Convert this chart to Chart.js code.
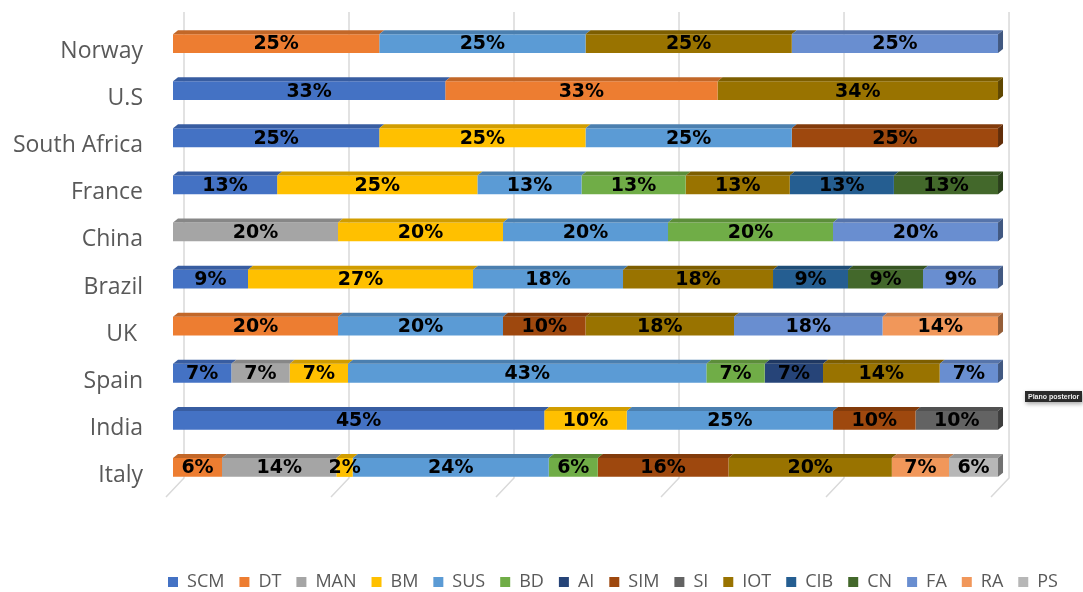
<!DOCTYPE html>
<html>
<head>
<meta charset="utf-8">
<script src="https://cdn.jsdelivr.net/npm/chart.js@4.4.1/dist/chart.umd.min.js"></script>
<style>
  html, body { margin: 0; padding: 0; background: #fff; }
  #wrap { position: relative; width: 1083px; height: 592px; }
  #tip {
    position: absolute; left: 1025px; top: 391px; white-space: nowrap;
    background: #2b2b2b; color: #eee; font: bold 7px "Liberation Sans", sans-serif;
    padding: 2px 3px; box-shadow: 1px 2px 4px rgba(0,0,0,0.35);
  }
</style>
</head>
<body>
<div id="wrap">
  <canvas id="chart" width="1083" height="592"></canvas>
  <div id="tip">Plano posterior</div>
</div>
<script>
// countries, top row first
var countries = ["Norway", "U.S", "South Africa", "France", "China", "Brazil", "UK ", "Spain", "India", "Italy"];

// share (%) of each topic per country
var SCM = [null, 33, 25, 13, null, 9, null, 7, 45, null];
var DT  = [25, 33, null, null, null, null, 20, null, null, 6];
var MAN = [null, null, null, null, 20, null, null, 7, null, 14];
var BM  = [null, null, 25, 25, 20, 27, null, 7, 10, 2];
var SUS = [25, null, 25, 13, 20, 18, 20, 43, 25, 24];
var BD  = [null, null, null, 13, 20, null, null, 7, null, 6];
var AI  = [null, null, null, null, null, null, null, 7, null, null];
var SIM = [null, null, 25, null, null, null, 10, null, 10, 16];
var SI  = [null, null, null, null, null, null, null, null, 10, null];
var IOT = [25, 34, null, 13, null, 18, 18, 14, null, 20];
var CIB = [null, null, null, 13, null, 9, null, null, null, null];
var CN  = [null, null, null, 13, null, 9, null, null, null, null];
var FA  = [25, null, null, null, 20, 9, 18, 7, null, null];
var RA  = [null, null, null, null, null, null, 14, null, null, 7];
var PS  = [null, null, null, null, null, null, null, null, null, 6];

var seriesNames = ["SCM", "DT", "MAN", "BM", "SUS", "BD", "AI", "SIM", "SI", "IOT", "CIB", "CN", "FA", "RA", "PS"];
var seriesValues = [SCM, DT, MAN, BM, SUS, BD, AI, SIM, SI, IOT, CIB, CN, FA, RA, PS];
var seriesColors = ["#4472C4", "#ED7D31", "#A5A5A5", "#FFC000", "#5B9BD5", "#70AD47", "#264478", "#9E480E",
                    "#636363", "#997300", "#255E91", "#43682B", "#698ED0", "#F1975A", "#B7B7B7"];

// 100% stacked: each row is scaled to its own total
var rowTotals = countries.map(function (c, i) {
    return seriesValues.reduce(function (s, arr) { return s + (arr[i] || 0); }, 0);
});

var datasets = seriesNames.map(function (name, k) {
    return {
        label: name,
        raw: seriesValues[k],
        data: seriesValues[k].map(function (v, i) { return v == null ? null : v / rowTotals[i] * 100; }),
        backgroundColor: seriesColors[k],
        borderWidth: 0,
        barPercentage: 1,
        categoryPercentage: 0.4
    };
});

function shade(hex, f) {
    var n = parseInt(hex.slice(1), 16);
    var r = Math.round(((n >> 16) & 255) * f), g = Math.round(((n >> 8) & 255) * f), b = Math.round((n & 255) * f);
    return "rgb(" + r + "," + g + "," + b + ")";
}

// widest country name, so the mirrored labels can end 30px left of the bars
var labelFont = "23px 'Open Sans'";
var measureCtx = document.createElement("canvas").getContext("2d");
measureCtx.font = labelFont;
var widestLabel = Math.max.apply(null, countries.map(function (c) { return measureCtx.measureText(c).width; }));

var DX = 5, DY = 4;

var bar3d = {
    id: "bar3d",
    beforeDatasetsDraw: function (chart) {
        // back wall grid lines with the floor edge
        var ctx = chart.ctx, xs = chart.scales.x, area = chart.chartArea;
        ctx.save();
        ctx.strokeStyle = "#d9d9d9";
        ctx.lineWidth = 1.5;
        for (var v = 0; v <= 100; v += 20) {
            var x = xs.getPixelForValue(v) + 11;
            ctx.beginPath();
            ctx.moveTo(x, area.top - 8);
            ctx.lineTo(x, area.bottom - 13);
            ctx.lineTo(x - 18, area.bottom + 6);
            ctx.stroke();
        }
        ctx.restore();
    },
    afterDatasetsDraw: function (chart) {
        var ctx = chart.ctx;
        var lastEnd = {};
        ctx.save();
        chart.data.datasets.forEach(function (ds, k) {
            chart.getDatasetMeta(k).data.forEach(function (el, i) {
                if (ds.data[i] == null) return;
                var x0 = el.base, x1 = el.x, top = el.y - el.height / 2;
                ctx.fillStyle = shade(ds.backgroundColor, 0.82);
                ctx.beginPath();
                ctx.moveTo(x0, top);
                ctx.lineTo(x1, top);
                ctx.lineTo(x1 + DX, top - DY);
                ctx.lineTo(x0 + DX, top - DY);
                ctx.closePath();
                ctx.fill();
                if (!lastEnd[i] || x1 >= lastEnd[i].x) lastEnd[i] = { x: x1, el: el, color: ds.backgroundColor };
            });
        });
        // right-hand side of each row
        Object.keys(lastEnd).forEach(function (i) {
            var e = lastEnd[i], top = e.el.y - e.el.height / 2, bottom = e.el.y + e.el.height / 2;
            ctx.fillStyle = shade(e.color, 0.62);
            ctx.beginPath();
            ctx.moveTo(e.x, top);
            ctx.lineTo(e.x + DX, top - DY);
            ctx.lineTo(e.x + DX, bottom - DY);
            ctx.lineTo(e.x, bottom);
            ctx.closePath();
            ctx.fill();
        });
        // value labels
        ctx.fillStyle = "#000";
        ctx.font = "bold 19px 'DejaVu Sans'";
        ctx.textAlign = "center";
        ctx.textBaseline = "middle";
        chart.data.datasets.forEach(function (ds, k) {
            chart.getDatasetMeta(k).data.forEach(function (el, i) {
                if (ds.raw[i] == null) return;
                ctx.fillText(ds.raw[i] + "%", (el.base + el.x) / 2, el.y + 1);
            });
        });
        ctx.restore();
    }
};

new Chart(document.getElementById("chart"), {
    type: "bar",
    data: { labels: countries, datasets: datasets },
    plugins: [bar3d],
    options: {
        indexAxis: "y",
        responsive: false,
        animation: false,
        layout: { padding: { top: 20, right: 0, left: 143, bottom: 0 } },
        plugins: {
            tooltip: { enabled: false },
            legend: {
                position: "bottom",
                maxHeight: 34,
                labels: {
                    boxWidth: 10,
                    boxHeight: 10,
                    padding: 15,
                    color: "#595959",
                    font: { family: "'Open Sans'", size: 18 }
                }
            }
        },
        scales: {
            x: {
                stacked: true,
                min: 0,
                // empty strip right of the 100% mark
                max: 110.3,
                ticks: { display: false, stepSize: 20 },
                grid: { display: false },
                border: { display: false },
                afterFit: function (s) { s.height = 67; }
            },
            y: {
                stacked: true,
                grid: { display: false, drawTicks: false },
                border: { display: false },
                ticks: {
                    mirror: true,
                    crossAlign: "far",
                    padding: -30 - widestLabel,
                    labelOffset: 8,
                    color: "#595959",
                    font: { family: "'Open Sans'", size: 23 }
                },
                afterFit: function (s) {
                    s.width = 30;
                    s.paddingTop = 0;
                    s.paddingBottom = 0;
                }
            }
        }
    }
});
</script>
</body>
</html>
